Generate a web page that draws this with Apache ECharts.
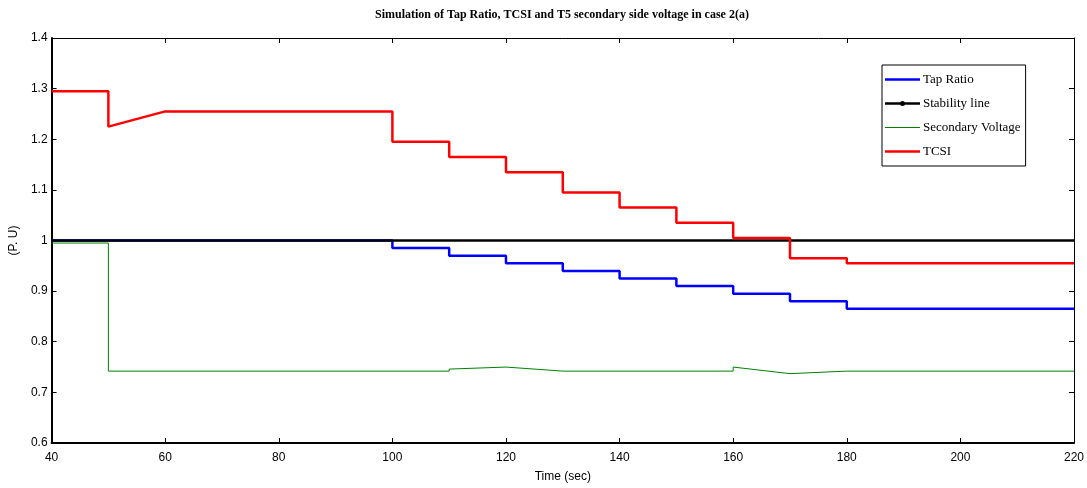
<!DOCTYPE html>
<html>
<head>
<meta charset="utf-8">
<script src="https://cdn.jsdelivr.net/npm/echarts@6/dist/echarts.min.js"></script>
<style>
  html, body { margin: 0; padding: 0; background: #fff; }
  #chart { width: 1087px; height: 488px; }
</style>
</head>
<body>
<div id="chart"></div>
<script>
// values (time in sec, value in P.U)
const xTicks = [40, 60, 80, 100, 120, 140, 160, 180, 200, 220]
const yTicks = [0.6, 0.7, 0.8, 0.9, 1, 1.1, 1.2, 1.3, 1.4]

const tapTime = [40, 100, 100, 110, 110, 120, 120, 130, 130, 140, 140, 150, 150, 160, 160, 170, 170, 180, 180, 220]
const tapVal = [1.0, 1.0, 0.985, 0.985, 0.97, 0.97, 0.955, 0.955, 0.94, 0.94, 0.925, 0.925, 0.91, 0.91, 0.895, 0.895, 0.88, 0.88, 0.865, 0.865]

const stabTime = [40, 220]
const stabVal = [1.0, 1.0]

const secTime = [40, 50, 50, 110, 110, 120, 130, 160, 160, 170, 180, 220]
const secVal = [0.995, 0.995, 0.742, 0.742, 0.746, 0.75, 0.742, 0.742, 0.75, 0.737, 0.742, 0.742]

const tcsiTime = [40, 50, 50, 60, 100, 100, 110, 110, 120, 120, 130, 130, 140, 140, 150, 150, 160, 160, 170, 170, 180, 180, 220]
const tcsiVal = [1.295, 1.295, 1.225, 1.255, 1.255, 1.195, 1.195, 1.165, 1.165, 1.135, 1.135, 1.095, 1.095, 1.065, 1.065, 1.035, 1.035, 1.005, 1.005, 0.965, 0.965, 0.955, 0.955]

const pairs = (t, v) => t.map((x, i) => [x, v[i]])

const chart = echarts.init(document.getElementById('chart'))

const axisFont = { fontFamily: 'Liberation Sans', fontSize: 12, color: '#000' }

// legend samples: plain strokes, the stability line with a small dot
const thickIcon = 'path://M0,0H35V2.5H0Z'
const thinIcon = 'path://M0,0H35V1.2H0Z'
const dotIcon = 'path://M0,2.3H35V4.7H0Z M15,3.5A2.5,2.5 0 1,1 20,3.5A2.5,2.5 0 1,1 15,3.5Z'

const options = {
  animation: false,
  title: {
    text: 'Simulation of Tap Ratio, TCSI and T5 secondary side voltage in case 2(a)',
    left: 370,
    top: 4,
    textStyle: { fontFamily: 'Liberation Serif', fontWeight: 'bold', fontSize: 12, color: '#000' }
  },
  legend: {
    orient: 'vertical',
    left: 882,
    top: 65,
    padding: [8, 5, 8, 3],
    itemGap: 11,
    itemWidth: 35,
    itemHeight: 14,
    borderColor: '#000',
    borderWidth: 1,
    backgroundColor: '#fff',
    textStyle: { fontFamily: 'Liberation Serif', fontSize: 13, color: '#000', padding: [0, 0, 0, -2] },
    data: [
      { name: 'Tap Ratio', icon: thickIcon },
      { name: 'Stability line', icon: dotIcon },
      { name: 'Secondary Voltage', icon: thinIcon },
      { name: 'TCSI', icon: thickIcon }
    ]
  },
  grid: { left: 45, right: 13, top: 38, bottom: 43 },
  xAxis: [{
    type: 'value',
    min: xTicks[0],
    max: xTicks[xTicks.length - 1],
    interval: 20,
    name: 'Time (sec)',
    nameLocation: 'middle',
    nameGap: 28,
    nameTextStyle: axisFont,
    axisLine: { lineStyle: { color: '#000', width: 2 } },
    axisTick: { inside: true, length: 5, lineStyle: { color: '#000' } },
    axisLabel: Object.assign({ margin: 9 }, axisFont),
    splitLine: { show: false }
  }, {
    type: 'value',
    position: 'top',
    min: xTicks[0],
    max: xTicks[xTicks.length - 1],
    interval: 20,
    axisLine: { show: true, lineStyle: { color: '#000', width: 1 } },
    axisTick: { inside: true, length: 5, lineStyle: { color: '#000' } },
    axisLabel: { show: false },
    splitLine: { show: false }
  }],
  yAxis: [{
    type: 'value',
    min: yTicks[0],
    max: yTicks[yTicks.length - 1],
    interval: 0.1,
    name: '(P. U)',
    nameLocation: 'middle',
    nameGap: 23,
    nameRotate: 90,
    nameTextStyle: axisFont,
    axisLine: { show: true, lineStyle: { color: '#000', width: 2 } },
    axisTick: { show: true, inside: true, length: 5, lineStyle: { color: '#000' } },
    axisLabel: Object.assign({ margin: 4 }, axisFont),
    splitLine: { show: false }
  }, {
    type: 'value',
    position: 'right',
    min: yTicks[0],
    max: yTicks[yTicks.length - 1],
    interval: 0.1,
    axisLine: { show: true, lineStyle: { color: '#000', width: 1 } },
    axisTick: { show: true, inside: true, length: 5, lineStyle: { color: '#000' } },
    axisLabel: { show: false },
    splitLine: { show: false }
  }],
  series: [{
    name: 'Tap Ratio',
    type: 'line',
    symbol: 'none',
    data: pairs(tapTime, tapVal),
    lineStyle: { color: '#0000ff', width: 2.5 },
    itemStyle: { color: '#0000ff' }
  }, {
    name: 'Stability line',
    type: 'line',
    symbol: 'none',
    data: pairs(stabTime, stabVal),
    lineStyle: { color: '#000', width: 2.5 },
    itemStyle: { color: '#000' }
  }, {
    name: 'Secondary Voltage',
    type: 'line',
    symbol: 'none',
    data: pairs(secTime, secVal),
    lineStyle: { color: '#008000', width: 1 },
    itemStyle: { color: '#008000' }
  }, {
    name: 'TCSI',
    type: 'line',
    symbol: 'none',
    data: pairs(tcsiTime, tcsiVal),
    lineStyle: { color: '#ff0000', width: 2.5 },
    itemStyle: { color: '#ff0000' }
  }]
}

chart.setOption(options)
</script>
</body>
</html>
